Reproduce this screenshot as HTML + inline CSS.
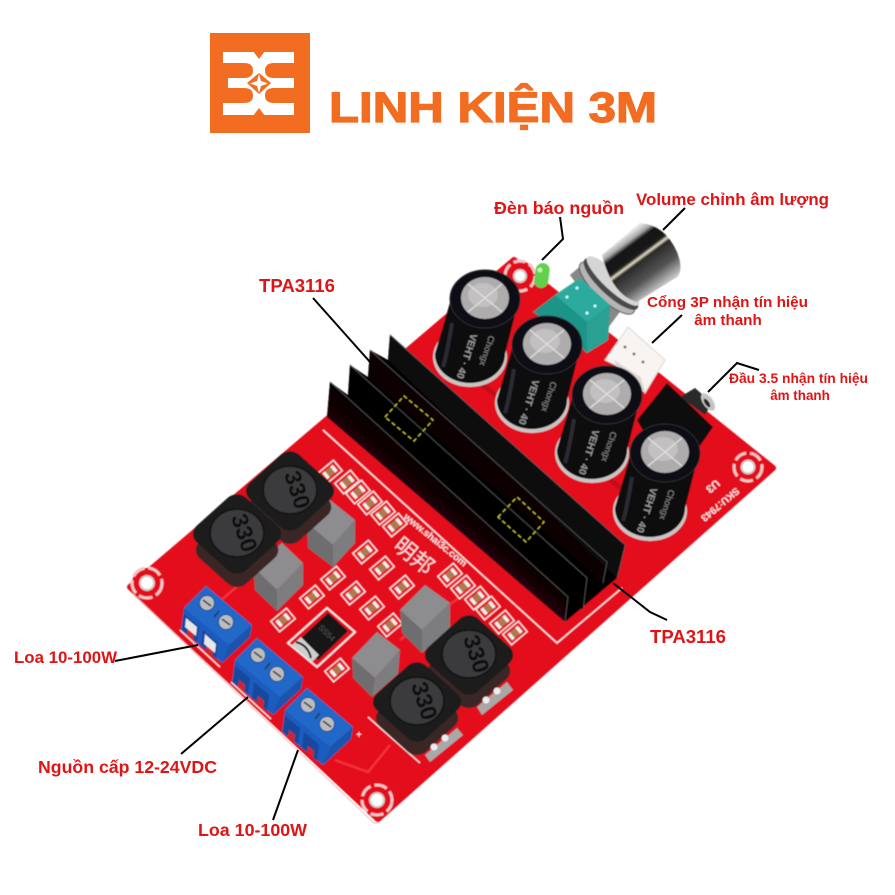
<!DOCTYPE html>
<html><head><meta charset="utf-8"><style>
html,body{margin:0;padding:0;background:#fff}
svg{display:block}
text{font-family:"Liberation Sans","Noto Sans CJK SC",sans-serif}
.l{fill:#e01414;font-weight:bold}
.p{stroke:#000;stroke-width:2;fill:none}
</style></head><body>
<svg width="895" height="895" viewBox="0 0 895 895" xmlns="http://www.w3.org/2000/svg">
<defs>
<filter id="soft" x="-5%" y="-5%" width="110%" height="110%"><feGaussianBlur stdDeviation="0.5"/></filter>
<linearGradient id="knob" gradientUnits="userSpaceOnUse" x1="620" y1="240" x2="657" y2="290"><stop offset="0" stop-color="#e4e4e4"/><stop offset=".1" stop-color="#a8a8a8"/><stop offset=".18" stop-color="#111"/><stop offset=".37" stop-color="#1c1c1c"/><stop offset=".42" stop-color="#e6dfc8"/><stop offset=".47" stop-color="#2a2a2a"/><stop offset=".75" stop-color="#555"/><stop offset="1" stop-color="#c4c4c4"/></linearGradient>
<linearGradient id="face" gradientUnits="userSpaceOnUse" x1="455" y1="490" x2="432" y2="517"><stop offset="0" stop-color="#050303"/><stop offset=".5" stop-color="#120506"/><stop offset="1" stop-color="#330809"/></linearGradient>
<g id="cap">
<ellipse cx="-15" cy="58" rx="37" ry="30" fill="#c9c4c4"/>
<path d="M-34 0L-50 55A35 29 0 0 0 20 55L34 0Z" fill="#0b0a0c"/>
<ellipse cx="0" cy="0" rx="35" ry="29" fill="#111013" stroke="#2e2d31" stroke-width="1"/>
<ellipse cx="0" cy="-1" rx="24" ry="21" fill="#aeacac"/>
<ellipse cx="-2" cy="-4" rx="15" ry="12" fill="#c2c0c0"/>
<path d="M-17 -15L17 13M-17 13L17 -15" stroke="#e0e0e0" stroke-width="1.400"/>
<path d="M-33 24Q-38 55 -42 68" stroke="#2c2b30" stroke-width="4" fill="none"/>
<text transform="translate(-14,34) rotate(108)" font-size="10" fill="#9a9a9a" font-weight="bold">VEHT · 40</text>
<text transform="translate(4,36) rotate(108)" font-size="9" fill="#8a8a8a">Chongx</text>
</g>
<g id="smd">
<rect x="-12" y="-8" width="24" height="16" fill="#e8141c" stroke="#f4e6e6" stroke-width="1.600"/>
<rect x="-8" y="-4.500" width="16" height="9" fill="#b07a50"/>
<rect x="-8" y="-4.500" width="4" height="9" fill="#eee"/>
<rect x="4" y="-4.500" width="4" height="9" fill="#eee"/>
</g>
<g id="ind">
<g transform="translate(0,16) scale(1,.9) rotate(45)"><rect x="-33" y="-33" width="66" height="66" rx="13" fill="#3a2826"/></g>
<g transform="scale(1,.9) rotate(45)"><rect x="-35" y="-35" width="70" height="70" rx="13" fill="#1b1b1d"/></g>
<ellipse cx="0" cy="-1" rx="27" ry="24" fill="#3a3a3c" stroke="#121213" stroke-width="2"/>
<text transform="translate(-6,-17) rotate(72)" font-size="23" fill="#0f0f10" font-weight="bold">330</text>
</g>
<g id="term">
<polygon points="206,586 252,625 250,637 222,663 181,630 184,608" fill="#1f5cbf"/>
<polygon points="206,586 252,625 229,645 184,608" fill="#2468c8"/>
<polygon points="229,645 252,625 250,637 222,663" fill="#1a52ad"/>
<polygon points="184,614 199,626 197,642 182,630" fill="#17489c"/>
<polygon points="203,630 218,643 216,659 201,646" fill="#17489c"/>
<polygon points="188,628 194,633 193,640 187,635" fill="#d8202a"/>
<polygon points="207,644 213,649 212,656 206,651" fill="#d8202a"/>
<circle cx="207" cy="603" r="7.500" fill="#bdbdbd" stroke="#184a9a"/>
<circle cx="226" cy="622" r="7.500" fill="#bdbdbd" stroke="#184a9a"/>
<path d="M203 600L211 606M222 619L230 625M214 617L219 611" stroke="#2a3340" stroke-width="1.500"/>
</g>
</defs>
<rect width="895" height="895" fill="#fff"/>

<!-- logo -->
<rect x="210" y="33" width="100" height="100" fill="#f26c21"/>
<rect x="223" y="52" width="71" height="63" fill="#fff"/>
<g fill="#f26c21">
<path d="M220 63H244Q253 63 253 70.500Q253 78 244 78H220Z"/>
<path d="M220 88H244Q253 88 253 95.500Q253 103 244 103H220Z"/>
<path d="M297 63H274Q265 63 265 70.500Q265 78 274 78H297Z"/>
<path d="M297 88H274Q265 88 265 95.500Q265 103 274 103H297Z"/>
<rect x="222" y="77" width="6" height="12"/>
<polygon points="253,51 265,51 259,59"/>
<polygon points="253,116 265,116 259,108"/>
<polygon points="247,83 259,73 271,83 259,94"/>
</g>
<polygon points="259,74 261,81 268,83.500 261,86 259,93 257,86 250,83.500 257,81" fill="#fff"/>
<text x="329" y="122" font-size="43" font-weight="bold" fill="#f26c21" stroke="#f26c21" stroke-width="1.200" textLength="328" lengthAdjust="spacingAndGlyphs">LINH KIỆN 3M</text>

<g filter="url(#soft)">
<!-- board -->
<polygon points="130,587 514,260 773,468 378,819" fill="#e4101a" stroke="#e4101a" stroke-width="6" stroke-linejoin="round"/>
<path d="M133 594L374 823L380 823" fill="none" stroke="#f3b8b8" stroke-width="1"/>
<path d="M470 375L540 430M560 440L600 470M610 480L680 530" stroke="#c20c14" stroke-width="5" fill="none"/>
<path d="M335 760L368 772L390 745M330 640L345 628M400 640L470 590M210 610L250 575" stroke="#f2303a" stroke-width="2.500" fill="none"/>
<!-- silk -->
<polyline points="323,430 557,643 622,588" fill="none" stroke="#f1dede" stroke-width="1.600"/>
<polyline points="368,717 420,763M460,727 467,720M462,715 470,722M482,712 488,718" fill="none" stroke="#f1dede" stroke-width="1.500"/>
<polyline points="180,630 220,667" fill="none" stroke="#f1dede" stroke-width="1.500"/>
<polyline points="231,682 271,719" fill="none" stroke="#f1dede" stroke-width="1.500"/>
<!-- holes -->
<circle cx="147" cy="583" r="15" fill="#e4101a" stroke="#f0c8c8" stroke-width="3" stroke-dasharray="14 4"/><circle cx="147" cy="583" r="7" fill="#fff" stroke="#ccc" stroke-width="2"/>
<circle cx="520" cy="276" r="15" fill="#e4101a" stroke="#f0c8c8" stroke-width="3" stroke-dasharray="12 4"/><circle cx="520" cy="276" r="6" fill="#fff" stroke="#ccc" stroke-width="2"/>
<circle cx="748" cy="467" r="14" fill="#e4101a" stroke="#f0c8c8" stroke-width="3" stroke-dasharray="13 4"/><circle cx="748" cy="467" r="6.500" fill="#fff" stroke="#ccc" stroke-width="2"/>
<circle cx="377" cy="800" r="15" fill="#e4101a" stroke="#f0c8c8" stroke-width="3" stroke-dasharray="13 4"/><circle cx="377" cy="800" r="7" fill="#fff" stroke="#ccc" stroke-width="2"/>
<!-- board text -->
<text transform="translate(403,518) rotate(39)" font-size="10" fill="#f4e4e4" font-weight="bold" textLength="78">www.shai3c.com</text>
<text transform="translate(392,548) rotate(39)" font-size="22" fill="#f0dede">明邦</text>
<text transform="translate(736,487) rotate(140)" font-size="10" fill="#f4e4e4" font-weight="bold">SKU:7943</text>
<text transform="translate(716,479) rotate(140)" font-size="11" fill="#f4e4e4" font-weight="bold">U3</text>
<text x="356" y="738" font-size="10" fill="#fff">+</text>

<!-- smd -->
<g>
<use href="#smd" transform="translate(330,472) rotate(-40) scale(.85)"/>
<use href="#smd" transform="translate(347,482) rotate(-40) scale(.85)"/>
<use href="#smd" transform="translate(358,492) rotate(-40) scale(.85)"/>
<use href="#smd" transform="translate(370,503) rotate(-40) scale(.85)"/>
<use href="#smd" transform="translate(383,513) rotate(-40) scale(.85)"/>
<use href="#smd" transform="translate(395,525) rotate(-40) scale(.85)"/>
<use href="#smd" transform="translate(365,552) rotate(-40) scale(.85)"/>
<use href="#smd" transform="translate(382,568) rotate(-40) scale(.85)"/>
<use href="#smd" transform="translate(333,578) rotate(-40) scale(.85)"/>
<use href="#smd" transform="translate(353,593) rotate(-40) scale(.85)"/>
<use href="#smd" transform="translate(312,597) rotate(-40) scale(.85)"/>
<use href="#smd" transform="translate(283,620) rotate(-40) scale(.85)"/>
<use href="#smd" transform="translate(402,587) rotate(-40) scale(.85)"/>
<use href="#smd" transform="translate(372,608) rotate(-40) scale(.85)"/>
<use href="#smd" transform="translate(390,625) rotate(-40) scale(.85)"/>
<use href="#smd" transform="translate(337,670) rotate(-40) scale(.85)"/>
<use href="#smd" transform="translate(450,575) rotate(-40) scale(.85)"/>
<use href="#smd" transform="translate(463,587) rotate(-40) scale(.85)"/>
<use href="#smd" transform="translate(477,598) rotate(-40) scale(.85)"/>
<use href="#smd" transform="translate(488,608) rotate(-40) scale(.85)"/>
<use href="#smd" transform="translate(502,622) rotate(-40) scale(.85)"/>
<use href="#smd" transform="translate(515,633) rotate(-40) scale(.85)"/>
</g>

<!-- diode -->
<polygon points="288,643 327,608 355,632 317,667" fill="#e4101a" stroke="#f2e6e6" stroke-width="2"/>
<polygon points="297,642 328,613 348,631 318,660" fill="#141315"/>
<polygon points="292,645 301,637 319,655 312,662" fill="#cfcfcf"/>
<path d="M296 642Q308 645 311 658" stroke="#111" stroke-width="2" fill="none"/>
<text transform="translate(318,628) rotate(45)" font-size="8" fill="#555">SS54</text>

<!-- grey cubes -->
<g>
<polygon points="307,523 330,500 355,520 333,545" fill="#8d8d90"/><polygon points="307,523 333,545 333,567 308,548" fill="#6e6e70"/><polygon points="333,545 355,520 355,543 333,567" fill="#7d7d80"/>
<polygon points="253,567 282,543 303,563 277,590" fill="#8d8d90"/><polygon points="253,567 277,590 277,611 255,590" fill="#6e6e70"/><polygon points="277,590 303,563 303,585 277,611" fill="#7d7d80"/>
<polygon points="400,610 425,585 450,603 422,630" fill="#8d8d90"/><polygon points="400,610 422,630 422,653 402,633" fill="#6e6e70"/><polygon points="422,630 450,603 450,628 422,653" fill="#7d7d80"/>
<polygon points="352,658 377,632 400,650 375,678" fill="#8d8d90"/><polygon points="352,658 375,678 372,697 353,678" fill="#6e6e70"/><polygon points="375,678 400,650 398,674 372,697" fill="#7d7d80"/>
</g>

<!-- inductors -->
<use href="#ind" transform="translate(290,491)"/>
<use href="#ind" transform="translate(237,534)"/>
<polygon points="477,707 507,682 513,690 482,715" fill="#a8a8a8"/>
<polygon points="425,755 457,728 463,735 430,762" fill="#a8a8a8"/>
<use href="#ind" transform="translate(469,655)"/>
<use href="#ind" transform="translate(417,702)"/>
<circle cx="486" cy="700" r="3.500" fill="#eee"/><circle cx="497" cy="691" r="3.500" fill="#eee"/>
<circle cx="434" cy="747" r="3.500" fill="#eee"/><circle cx="445" cy="738" r="3.500" fill="#eee"/>

<!-- terminals -->
<use href="#term"/>
<polygon points="186,618 197,627 196,636 185,627" fill="#e8e8e8"/>
<polygon points="205,634 216,644 215,653 204,644" fill="#e8e8e8"/>
<use href="#term" transform="translate(51,52)"/>
<use href="#term" transform="translate(101,102)"/>

<!-- heatsink -->
<polygon points="327,417 565,622 617,578 625,545 390,335 388,360 370,350 368,377 350,365 348,395 330,382" fill="#050405"/>
<polygon points="327,417 330,382 568,597 565,622" fill="url(#face)"/>
<polygon points="348,395 350,365 587,578 583,610" fill="#060505"/>
<polygon points="368,377 370,350 607,562 603,583" fill="#070506"/>
<polygon points="388,360 390,335 625,545 617,578" fill="#0a0809"/>
<path d="M330 382L568 597L565 622M350 365L587 578L583 610M370 350L607 562L603 583M390 335L625 545L617 578" fill="none" stroke="#4a4a4c" stroke-width="1"/>
<polygon points="385,417 404,396 433,420 414,441" fill="none" stroke="#d8d83a" stroke-width="1" stroke-dasharray="4 3"/>
<polygon points="498,517 517,497 544,522 526,542" fill="none" stroke="#d8d83a" stroke-width="1" stroke-dasharray="4 3"/>

<!-- LED -->
<rect x="535" y="263" width="14" height="25" rx="7" fill="#62d04e" transform="rotate(8 542 275)"/>
<circle cx="540" cy="270" r="2.500" fill="#c8f4b8"/>

<!-- connector -->
<polygon points="605,360 628,327 665,360 645,393 640,377" fill="#f7f4f2" stroke="#dcd8d5" stroke-width="1"/>
<polygon points="614,360 640,377 645,393 622,378" fill="#ddd6d2"/>
<circle cx="625" cy="347" r="1.500" fill="#777"/><circle cx="634" cy="354" r="1.500" fill="#777"/><circle cx="643" cy="362" r="1.500" fill="#777"/>

<!-- knob -->
<polygon points="570,275 585,262 625,305 608,328" fill="#888"/>
<ellipse cx="607" cy="288" rx="36" ry="12" transform="rotate(43 607 288)" fill="#b5b5b5" stroke="#555"/>
<ellipse cx="611" cy="284" rx="36" ry="11" transform="rotate(43 611 284)" fill="#4a4a4a"/>
<ellipse cx="613" cy="281" rx="35" ry="9" transform="rotate(43 613 281)" fill="#d5d5d5"/>
<path d="M602 255L640 223Q665 225 677 252Q684 270 677 277L637 302Q612 295 602 255Z" fill="url(#knob)"/>
<!-- pot -->
<polygon points="533,312 580,278 610,305 608,340 587,353 557,327" fill="#1f9488"/>
<polygon points="555,295 580,278 610,305 587,322" fill="#2aab9e"/>
<polygon points="533,312 555,295 587,322 587,353 560,327" fill="#1f9488"/>
<polygon points="587,322 610,305 608,340 587,353" fill="#2aa092"/>
<circle cx="577" cy="288" r="1.500" fill="#dff"/><circle cx="595" cy="306" r="1.500" fill="#dff"/><circle cx="567" cy="297" r="1.500" fill="#dff"/><circle cx="587" cy="313" r="1.500" fill="#dff"/>

<!-- jack -->
<polygon points="637,420 667,383 713,427 697,450 660,460" fill="#0c0b0c"/>
<polygon points="680,397 695,388 712,403 705,415" fill="#2a2a2a"/>
<ellipse cx="708" cy="402" rx="5" ry="10" fill="#c4c4c4" transform="rotate(-35 708 402)"/>
<ellipse cx="707" cy="403" rx="2" ry="5" fill="#222" transform="rotate(-35 707 403)"/>

<!-- capacitors -->
<use href="#cap" transform="translate(485,299)"/>
<use href="#cap" transform="translate(547,345)"/>
<use href="#cap" transform="translate(607,395)"/>
<use href="#cap" transform="translate(665,453)"/>
</g>

<!-- leaders -->
<polyline class="p" points="560,217 563,239 542,260"/>
<polyline class="p" points="685,208 663,230"/>
<polyline class="p" points="682,315 652,343"/>
<polyline class="p" points="708,392 737,363 759,370"/>
<polyline class="p" points="313,298 370,362"/>
<polyline class="p" points="613,583 650,612 667,620"/>
<polyline class="p" points="115,661 198,645"/>
<polyline class="p" points="181,754 248,697"/>
<polyline class="p" points="273,820 298,750"/>

<!-- labels -->
<text class="l" x="494" y="214" font-size="17.900" textLength="130" lengthAdjust="spacingAndGlyphs">Đèn báo nguồn</text>
<text class="l" x="636" y="205" font-size="16.900" textLength="193" lengthAdjust="spacingAndGlyphs">Volume chỉnh âm lượng</text>
<text class="l" x="259" y="292" font-size="18" textLength="76" lengthAdjust="spacingAndGlyphs">TPA3116</text>
<text class="l" x="647" y="307" font-size="15.200" textLength="161" lengthAdjust="spacingAndGlyphs">Cổng 3P nhận tín hiệu</text>
<text class="l" x="728" y="325" font-size="15.200" text-anchor="middle">âm thanh</text>
<text class="l" x="729" y="383" font-size="13.400" textLength="139" lengthAdjust="spacingAndGlyphs">Đầu 3.5 nhận tín hiệu</text>
<text class="l" x="800" y="400" font-size="13.400" text-anchor="middle">âm thanh</text>
<text class="l" x="650" y="643" font-size="18" textLength="76" lengthAdjust="spacingAndGlyphs">TPA3116</text>
<text class="l" x="14" y="663" font-size="16.900" textLength="103" lengthAdjust="spacingAndGlyphs">Loa 10-100W</text>
<text class="l" x="38" y="773" font-size="17.700" textLength="179" lengthAdjust="spacingAndGlyphs">Nguồn cấp 12-24VDC</text>
<text class="l" x="198" y="836" font-size="17.800" textLength="109" lengthAdjust="spacingAndGlyphs">Loa 10-100W</text>
</svg>
</body></html>
